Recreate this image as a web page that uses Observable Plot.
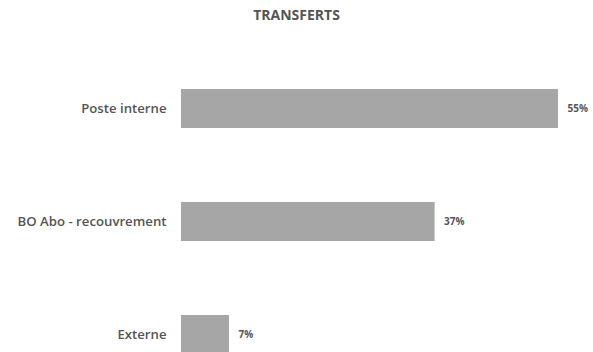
<!DOCTYPE html>
<html>
<head>
<meta charset="utf-8">
<script src="https://cdn.jsdelivr.net/npm/d3@7"></script>
<script src="https://cdn.jsdelivr.net/npm/@observablehq/plot@0.6"></script>
<style>
  html, body { margin: 0; padding: 0; background: #fff; overflow: hidden; }
  #title { width: 593px; height: 30px; line-height: 30px; text-align: center;
           font-family: "Open Sans", sans-serif; font-weight: 700; font-size: 14px; color: #555; }
</style>
</head>
<body>
<div id="title">TRANSFERTS</div>
<div id="chart"></div>
<script>
const categories = ["Poste interne", "BO Abo - recouvrement", "Externe"];
const values = [55, 37, 7];
const valueLabels = ["55%", "37%", "7%"];

const data = categories.map((c, i) => ({category: c, value: values[i], label: valueLabels[i]}));

const plot = Plot.plot({
  width: 593,
  height: 322,
  marginLeft: 181,
  marginRight: 35,
  marginTop: 0,
  marginBottom: 0,
  style: {fontFamily: "Open Sans, sans-serif", background: "#fff", overflow: "hidden"},
  x: {domain: [0, 55], axis: null},
  y: {domain: categories, range: [24, 358.55], paddingInner: 0.652, paddingOuter: 0.3, label: null},
  marks: [
    Plot.barX(data, {x: "value", y: "category", fill: "#a6a6a6"}),
    Plot.axisY({tickSize: 0, tickPadding: 15, fontSize: 13.2, fontWeight: 600, color: "#555", label: null}),
    Plot.text(data, {x: "value", y: "category", text: "label", dx: 9, textAnchor: "start",
                     fontSize: 10, fontWeight: 700, fill: "#555"})
  ]
});
document.getElementById("chart").appendChild(plot);
</script>
</body>
</html>
